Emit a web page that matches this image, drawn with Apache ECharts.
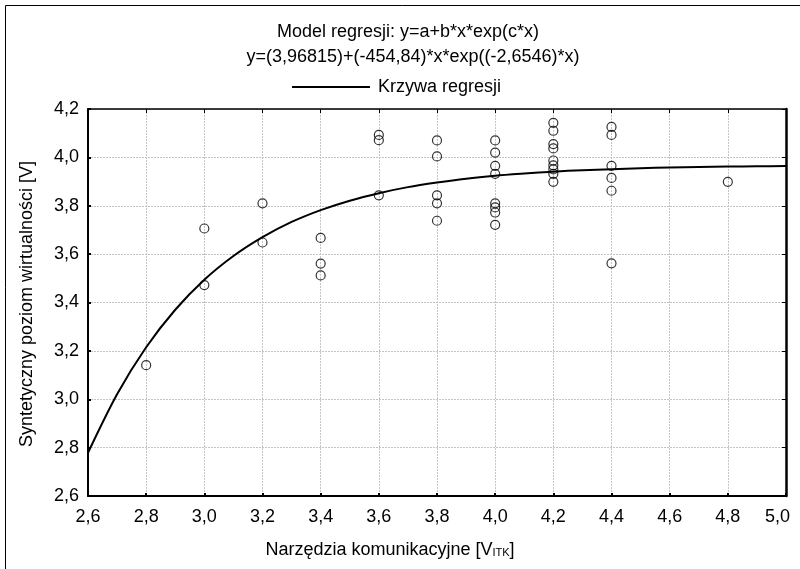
<!DOCTYPE html>
<html>
<head>
<meta charset="utf-8">
<script src="https://cdn.jsdelivr.net/npm/echarts@6/dist/echarts.min.js"></script>
<style>
html,body{margin:0;padding:0;background:#fff;}
#chart{width:800px;height:569px;}
</style>
</head>
<body>
<div id="chart"></div>
<script>
// Observed data points (x: Narzędzia komunikacyjne, y: Syntetyczny poziom wirtualności)
var pointX = [2.8, 3.0, 3.0, 3.2, 3.2, 3.4, 3.4, 3.4, 3.6, 3.6, 3.6,
  3.8, 3.8, 3.8, 3.8, 3.8,
  4.0, 4.0, 4.0, 4.0, 4.0, 4.0, 4.0, 4.0,
  4.2, 4.2, 4.2, 4.2, 4.2, 4.2, 4.2, 4.2, 4.2,
  4.4, 4.4, 4.4, 4.4, 4.4, 4.4, 4.8];
var pointY = [3.141, 3.706, 3.472, 3.810, 3.648, 3.667, 3.561, 3.512, 4.093, 4.071, 3.843,
  4.070, 4.004, 3.843, 3.810, 3.738,
  4.070, 4.020, 3.965, 3.932, 3.810, 3.793, 3.772, 3.721,
  4.143, 4.110, 4.055, 4.037, 3.987, 3.967, 3.950, 3.932, 3.899,
  4.126, 4.093, 3.965, 3.915, 3.862, 3.562, 3.899];

// Regression curve
var curveX = [2.6, 2.7, 2.8, 2.9, 3.0, 3.1, 3.2, 3.3, 3.4, 3.5, 3.6, 3.7, 3.8, 3.9,
  4.0, 4.1, 4.2, 4.3, 4.4, 4.5, 4.6, 4.7, 4.8, 4.9, 5.0];
var curveY = [2.779, 3.021, 3.215, 3.370, 3.494, 3.592, 3.670, 3.733, 3.782, 3.821,
  3.852, 3.877, 3.896, 3.912, 3.924, 3.933, 3.941, 3.947, 3.951, 3.955, 3.958,
  3.960, 3.962, 3.963, 3.964];

var xTicks = ['2,6','2,8','3,0','3,2','3,4','3,6','3,8','4,0','4,2','4,4','4,6','4,8','5,0'];
var yTicks = ['2,6','2,8','3,0','3,2','3,4','3,6','3,8','4,0','4,2'];

var titleLine1 = 'Model regresji: y=a+b*x*exp(c*x)';
var titleLine2 = 'y=(3,96815)+(-454,84)*x*exp((-2,6546)*x)';
var legendName = 'Krzywa regresji';
var xTitle = 'Narzędzia komunikacyjne [V{sub|ITK}]';
var yTitle = 'Syntetyczny poziom wirtualności [V]';

var fontFam = '"Liberation Sans", Arial, sans-serif';
var FS = 18;

var scatterData = pointX.map(function(x, i){ return [x, pointY[i]]; });
var curveData = curveX.map(function(x, i){ return [x, curveY[i]]; });

var chart = echarts.init(document.getElementById('chart'), null, {renderer:'canvas'});
var gridLine = {show:true, lineStyle:{color:'#c4c4c4', type:[2,1], width:1}};
chart.setOption({
  animation:false,
  backgroundColor:'#ffffff',
  textStyle:{fontFamily:fontFam},
  grid:{left:88, right:14, top:109, bottom:73, containLabel:false},
  legend:{
    data:[{name:legendName, icon:'rect'}], left:292, top:78, padding:0, itemWidth:78, itemHeight:2, itemGap:5,
    textStyle:{fontFamily:fontFam, fontSize:FS, color:'#000', padding:[0,0,0,3]}
  },
  xAxis:[{
    type:'value', min:2.6, max:5.0, interval:0.2, position:'bottom',
    axisLine:{show:true, onZero:false, lineStyle:{color:'#000', width:2}},
    axisTick:{show:true, inside:true, length:3, lineStyle:{color:'#000', width:2}},
    axisLabel:{margin:12, fontSize:FS, color:'#000', fontFamily:fontFam,
      formatter:function(v){
        var i = Math.round((v-2.6)/0.2);
        return i === xTicks.length - 1 ? '{last|' + xTicks[i] + '}' : xTicks[i];
      },
      rich:{last:{fontSize:FS, fontFamily:fontFam, color:'#000', padding:[0,17,0,0]}}},
    splitLine:gridLine
  },{
    type:'value', min:2.6, max:5.0, interval:0.2, position:'top',
    axisLine:{show:true, onZero:false, lineStyle:{color:'#000', width:1.5}},
    axisTick:{show:true, inside:true, length:4, lineStyle:{color:'#000', width:1}},
    axisLabel:{show:false}, splitLine:{show:false}
  }],
  yAxis:[{
    type:'value', min:2.6, max:4.2, interval:0.2, position:'left',
    axisLine:{show:true, onZero:false, lineStyle:{color:'#000', width:2}},
    axisTick:{show:true, inside:true, length:3, lineStyle:{color:'#000', width:2}},
    axisLabel:{margin:9, fontSize:FS, color:'#000', fontFamily:fontFam,
      formatter:function(v){ return yTicks[Math.round((v-2.6)/0.2)]; }},
    splitLine:gridLine
  },{
    type:'value', min:2.6, max:4.2, interval:0.2, position:'right',
    axisLine:{show:true, onZero:false, lineStyle:{color:'#000', width:2.5}},
    axisTick:{show:true, inside:true, length:4, lineStyle:{color:'#000', width:1}},
    axisLabel:{show:false}, splitLine:{show:false}
  }],
  series:[{
    type:'scatter', name:'Dane', data:scatterData, symbol:'circle', symbolSize:9,
    itemStyle:{color:'rgba(255,255,255,0)', borderColor:'#000', borderWidth:1.2},
    z:3
  },{
    type:'line', name:legendName, data:curveData, symbol:'none', smooth:0.3,
    lineStyle:{color:'#000', width:2}, itemStyle:{color:'#000'}, z:2
  }],
  graphic:[
    {type:'line', shape:{x1:5.5, y1:5.5, x2:800, y2:5.5}, style:{stroke:'#000', lineWidth:1}},
    {type:'line', shape:{x1:5.5, y1:5.5, x2:5.5, y2:569}, style:{stroke:'#000', lineWidth:1}},
    {type:'text', x:408, y:32, style:{text:titleLine1, textAlign:'center', textVerticalAlign:'middle',
      font:FS + 'px ' + fontFam, fill:'#000'}},
    {type:'text', x:413, y:57, style:{text:titleLine2, textAlign:'center', textVerticalAlign:'middle',
      font:FS + 'px ' + fontFam, fill:'#000'}},
    {type:'text', x:27, y:304, rotation:Math.PI/2, style:{text:yTitle,
      textAlign:'center', textVerticalAlign:'middle', font:FS + 'px ' + fontFam, fill:'#000'}},
    {type:'text', x:390, y:550, style:{text:xTitle,
      textAlign:'center', textVerticalAlign:'middle', fontFamily:fontFam, fontSize:FS, fill:'#000',
      rich:{sub:{fontSize:11, fontFamily:fontFam, fill:'#000', padding:[6,0,0,0]}}}}
  ]
});
</script>
</body>
</html>
